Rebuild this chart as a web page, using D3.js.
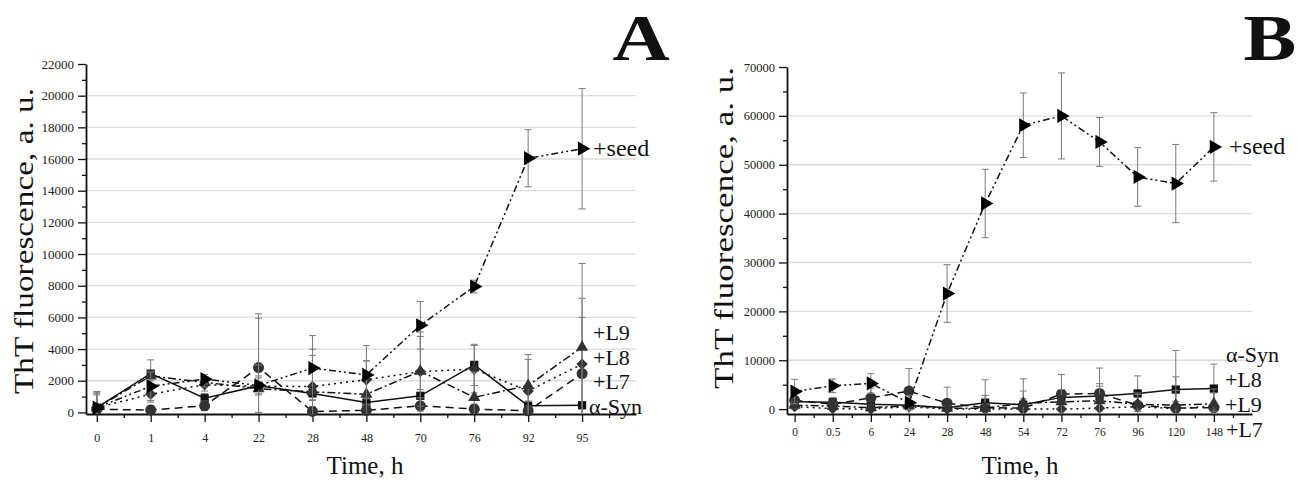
<!DOCTYPE html>
<html>
<head>
<meta charset="utf-8">
<script src="https://cdn.jsdelivr.net/npm/d3@7"></script>
<style>
  html, body { margin: 0; padding: 0; background: #fff; }
  svg { display: block; }
  text { font-family: "Liberation Serif", "DejaVu Serif", serif; fill: #111; }
</style>
</head>
<body>
<svg id="chart" width="1308" height="483"></svg>
<script>
// ---- Panel A: ThT kinetics, time points (h) ----
const timesA = ["0", "1", "4", "22", "28", "48", "70", "76", "92", "95"];
const synA   = [300, 2450, 900, 1680, 1200, 620, 1050, 3000, 420, 450];
const synAErr  = [1000, 870, 300, 500, 400, 300, 400, 1300, 300, 200];
const l7A    = [200, 150, 420, 2830, 60, 130, 420, 210, 100, 2450];
const l7AErr   = [1100, 300, 300, 3400, 300, 300, 500, 300, 300, 3550];
const l8A    = [300, 1150, 1750, 1650, 1640, 2060, 2580, 2730, 1350, 3050];
const l8AErr   = [900, 500, 400, 4300, 2350, 1200, 2500, 1500, 2000, 4150];
const l9A    = [300, 2300, 1900, 1500, 1300, 1150, 2600, 950, 1700, 4120];
const l9AErr   = [1000, 300, 300, 1500, 2300, 2100, 2200, 1600, 1950, 5280];
const seedA  = [300, 1650, 2100, 1700, 2800, 2370, 5500, 7950, 16050, 16650];
const seedAErr = [800, 900, 300, 600, 2050, 1850, 1500, 400, 1800, 3800];
const yTicksA = [0, 2000, 4000, 6000, 8000, 10000, 12000, 14000, 16000, 18000, 20000, 22000];

// ---- Panel B: ThT kinetics, time points (h) ----
const timesB = ["0", "0.5", "6", "24", "28", "48", "54", "72", "76", "96", "120", "148"];
const synB   = [1500, 1400, 1000, 800, 300, 1300, 900, 2400, 2700, 3200, 4000, 4200];
const synBErr  = [1000, 1000, 800, 800, 600, 1500, 1200, 1500, 2500, 3600, 8000, 5000];
const l7B    = [1800, 1000, 2300, 3700, 1200, 300, 200, 3060, 3200, 800, 200, 300];
const l7BErr   = [1500, 800, 2000, 4600, 3300, 5700, 6000, 4000, 5200, 2500, 6400, 3000];
const l8B    = [500, 100, 0, 500, 0, 0, 0, 0, 200, 500, 100, 600];
const l8BErr   = [500, 300, 300, 500, 300, 1000, 1000, 1000, 1500, 1000, 1500, 1000];
const l9B    = [800, 600, 300, 700, 200, 200, 1200, 1500, 1700, 1000, 800, 1100];
const l9BErr   = [700, 500, 600, 800, 500, 2000, 2500, 2500, 3000, 2000, 3000, 3000];
const seedB  = [3600, 4770, 5250, 1300, 23650, 42070, 58080, 59990, 54670, 47500, 46150, 53650];
const seedBErr = [2500, 1400, 2000, 1500, 5900, 7000, 6600, 8800, 5000, 6000, 8000, 7000];
const yTicksB = [0, 10000, 20000, 30000, 40000, 50000, 60000, 70000];

// Shared series styling: marker shape, fill, line dash pattern
const styles = {
  syn:  { symbol: d3.symbolSquare,   size: 68,  rot: 0,  fill: "#111", dash: null },
  l7:   { symbol: d3.symbolCircle,   size: 95,  rot: 0,  fill: "#333", dash: "8,5" },
  l8:   { symbol: d3.symbolSquare,   size: 64,  rot: 45, fill: "#333", dash: "2,4" },
  l9:   { symbol: d3.symbolTriangle, size: 64,  rot: 0,  fill: "#333", dash: "8,3,2,3" },
  seed: { symbol: d3.symbolTriangle, size: 88,  rot: 90, fill: "#000", dash: "7,3,2,3,2,3" }
};

const serif = "'Liberation Serif', 'DejaVu Serif', serif";
const svg = d3.select("#chart");
const defs = svg.append("defs");

function drawPanel(cfg) {
  const g = svg.append("g");
  const x = d3.scaleLinear().domain([-0.2, cfg.cats.length]).range([cfg.left, cfg.right]);
  const y = d3.scaleLinear().domain(cfg.yDomain).range([cfg.bottom, cfg.top]);
  const idx = d3.range(cfg.cats.length);

  // error bars stay inside the frame (cut at the x axis)
  const clipId = "clip-" + cfg.letter;
  defs.append("clipPath").attr("id", clipId).append("rect")
    .attr("x", cfg.left).attr("y", 0)
    .attr("width", cfg.right - cfg.left).attr("height", cfg.bottom);

  // horizontal gridlines
  g.append("g").selectAll("line")
    .data(cfg.yTicks.filter(v => v > 0 && v < cfg.yTicks[cfg.yTicks.length - 1]))
    .join("line")
    .attr("x1", cfg.left).attr("x2", cfg.right)
    .attr("y1", d => y(d)).attr("y2", d => y(d))
    .attr("stroke", "#dcdcdc").attr("stroke-width", 1.3);

  // x axis: major ticks at categories, minor ticks between
  const xAxis = g.append("g").attr("transform", `translate(0,${cfg.bottom})`)
    .call(d3.axisBottom(x).tickValues(idx).tickFormat(i => cfg.cats[i]).tickSize(8).tickPadding(cfg.xPad).tickSizeOuter(0));
  g.append("g").attr("transform", `translate(0,${cfg.bottom})`)
    .call(d3.axisBottom(x).tickValues(idx.map(i => i + 0.5)).tickFormat("").tickSize(4).tickSizeOuter(0))
    .select(".domain").remove();
  xAxis.selectAll("text").style("font-size", cfg.xTickFont + "px").style("font-family", serif).style("fill", "#222");

  // y axis: labelled major ticks, unlabelled minor ticks
  const yAxis = g.append("g").attr("transform", `translate(${cfg.left},0)`)
    .call(d3.axisLeft(y).tickValues(cfg.yTicks).tickFormat(d3.format("d")).tickSize(8).tickPadding(4).tickSizeOuter(0));
  g.append("g").attr("transform", `translate(${cfg.left},0)`)
    .call(d3.axisLeft(y).tickValues(cfg.yTicks.slice(0, -1).map((v, i) => (v + cfg.yTicks[i + 1]) / 2)).tickFormat("").tickSize(4).tickSizeOuter(0))
    .select(".domain").remove();
  yAxis.selectAll("text").style("font-size", cfg.yTickFont + "px").style("font-family", serif).style("fill", "#222");
  g.selectAll(".domain").attr("stroke", "#111").attr("stroke-width", 1.8);
  g.selectAll(".tick line").attr("stroke", "#111").attr("stroke-width", 1.3);

  // series: error bars, connecting line, markers
  cfg.series.forEach(s => {
    const st = styles[s.key];
    const sg = g.append("g");
    const eb = sg.append("g").attr("stroke", "#7a7a7a").attr("stroke-width", 1)
      .attr("clip-path", `url(#${clipId})`);
    idx.forEach(i => {
      const cx = x(i), v = s.values[i], e = s.err[i];
      eb.append("line").attr("x1", cx).attr("x2", cx).attr("y1", y(v - e)).attr("y2", y(v + e));
      eb.append("line").attr("x1", cx - 3.5).attr("x2", cx + 3.5).attr("y1", y(v + e)).attr("y2", y(v + e));
      eb.append("line").attr("x1", cx - 3.5).attr("x2", cx + 3.5).attr("y1", y(v - e)).attr("y2", y(v - e));
    });
    sg.append("path")
      .datum(idx)
      .attr("d", d3.line().x(i => x(i)).y(i => y(s.values[i])))
      .attr("fill", "none").attr("stroke", "#111").attr("stroke-width", 1.5)
      .attr("stroke-dasharray", st.dash);
    sg.selectAll("path.mk").data(idx).join("path").attr("class", "mk")
      .attr("d", d3.symbol().type(st.symbol).size(st.size))
      .attr("transform", i => `translate(${x(i)},${y(s.values[i])}) rotate(${st.rot})`)
      .attr("fill", st.fill);
  });

  // series labels at the right end
  cfg.labels.forEach(l => {
    g.append("text")
      .attr("x", l.x).attr("y", l.y)
      .attr("font-size", l.size || 22).text(l.text);
  });

  // axis titles
  g.append("text")
    .attr("transform", `translate(${cfg.yTitleX},${cfg.yTitleY}) rotate(-90)`)
    .attr("text-anchor", "middle").attr("font-size", 27)
    .attr("textLength", cfg.yTitleLen).attr("lengthAdjust", "spacingAndGlyphs")
    .text("ThT fluorescence, a. u.");
  g.append("text")
    .attr("x", cfg.xTitleX).attr("y", 474)
    .attr("text-anchor", "middle").attr("font-size", 25)
    .text("Time, h");

  // panel letter
  g.append("text")
    .attr("transform", `translate(${cfg.letterX},60) scale(1.2,1)`)
    .attr("text-anchor", "middle").attr("font-size", 66).attr("font-weight", "bold")
    .text(cfg.letter);
}

drawPanel({
  cats: timesA, left: 86, right: 636, top: 64, bottom: 414,
  yDomain: [-100, 22000], yTicks: yTicksA, xTickFont: 12, yTickFont: 13, xPad: 11,
  series: [
    { key: "syn",  values: synA,  err: synAErr },
    { key: "l7",   values: l7A,   err: l7AErr },
    { key: "l8",   values: l8A,   err: l8AErr },
    { key: "l9",   values: l9A,   err: l9AErr },
    { key: "seed", values: seedA, err: seedAErr }
  ],
  labels: [
    { text: "+seed", x: 593, y: 156, size: 24 },
    { text: "+L9",   x: 593, y: 340 },
    { text: "+L8",   x: 593, y: 364.5 },
    { text: "+L7",   x: 593, y: 389 },
    { text: "α-Syn", x: 589, y: 413.5 }
  ],
  yTitleX: 33, yTitleY: 241, yTitleLen: 306, xTitleX: 365, letter: "A", letterX: 641
});

drawPanel({
  cats: timesB, left: 787, right: 1252, top: 67, bottom: 414,
  yDomain: [-1000, 70000], yTicks: yTicksB, xTickFont: 11.5, yTickFont: 12.5, xPad: 6,
  series: [
    { key: "syn",  values: synB,  err: synBErr },
    { key: "l7",   values: l7B,   err: l7BErr },
    { key: "l8",   values: l8B,   err: l8BErr },
    { key: "l9",   values: l9B,   err: l9BErr },
    { key: "seed", values: seedB, err: seedBErr }
  ],
  labels: [
    { text: "+seed", x: 1229, y: 154, size: 24 },
    { text: "α-Syn", x: 1226, y: 362 },
    { text: "+L8",   x: 1225, y: 387 },
    { text: "+L9",   x: 1225, y: 412 },
    { text: "+L7",   x: 1226, y: 437 }
  ],
  yTitleX: 733, yTitleY: 228, yTitleLen: 322, xTitleX: 1020, letter: "B", letterX: 1270
});
</script>
</body>
</html>
